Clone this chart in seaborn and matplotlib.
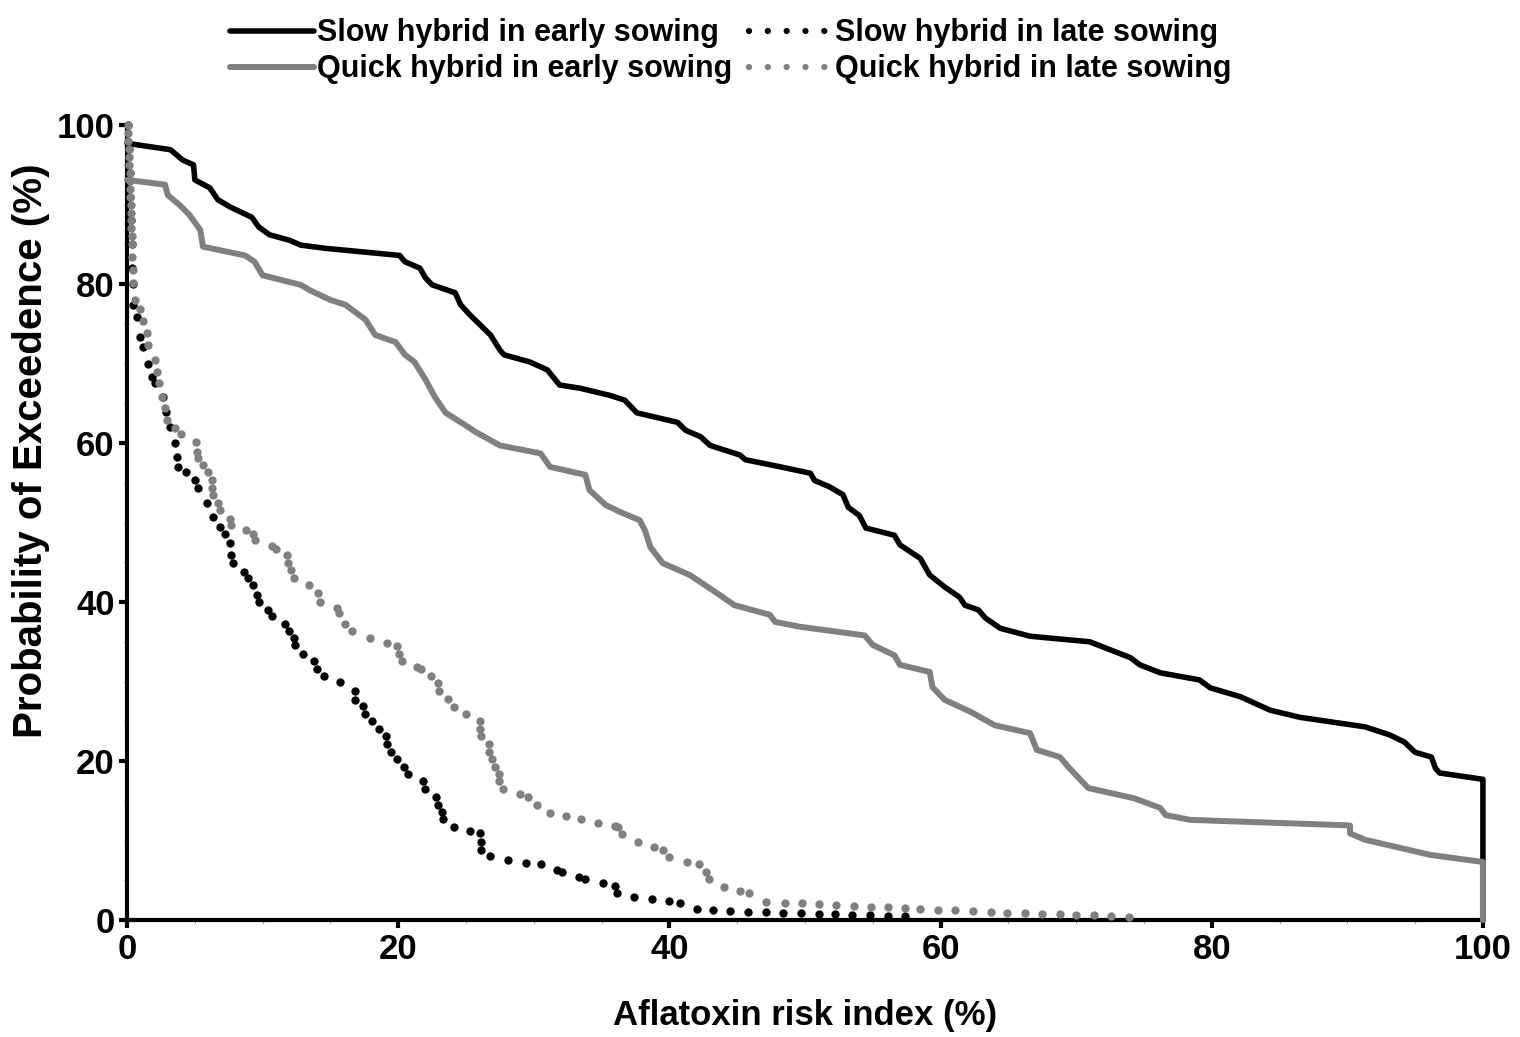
import numpy as np
import pandas as pd
import matplotlib
matplotlib.use("Agg")
import matplotlib.pyplot as plt
from matplotlib.lines import Line2D
from matplotlib.ticker import MultipleLocator
import seaborn as sns

# exceedance curves (x = aflatoxin risk index %, y = probability %)
slow_early_x = [0, 3.2, 4.1, 4.9, 5.0, 6.1, 6.7, 7.6, 9.2, 9.7, 10.5, 12.0, 12.8, 14.6, 20.1,
                20.5, 21.6, 22.0, 22.5, 24.2, 24.6, 25.3, 26.8, 27.5, 27.8, 29.7, 31.0, 31.9, 33.4,
                35.6, 36.7, 37.6, 40.6, 41.2, 42.3, 43.0, 45.2, 45.6, 48.2, 50.4, 50.7, 51.8, 52.8,
                53.2, 54.0, 54.5, 56.6, 57.0, 58.5, 59.2, 60.3, 61.4, 61.8, 62.8, 63.3, 64.4, 66.6,
                71.0, 74.0, 74.7, 76.2, 79.1, 79.9, 82.1, 84.3, 86.5, 91.3, 93.1, 94.2, 95.0, 96.2,
                96.5, 96.8, 100, 100]
slow_early_y = [97.7, 96.9, 95.6, 95.0, 93.1, 92.1, 90.6, 89.7, 88.4, 87.2, 86.2, 85.5, 84.9, 84.5,
                83.6, 82.8, 82.0, 80.8, 79.9, 78.9, 77.4, 76.1, 73.6, 71.7, 71.1, 70.2, 69.2, 67.3,
                66.9, 66.0, 65.4, 63.8, 62.6, 61.6, 60.8, 59.7, 58.5, 57.9, 57.0, 56.2, 55.3, 54.5,
                53.5, 51.9, 50.9, 49.3, 48.4, 47.2, 45.5, 43.4, 41.9, 40.6, 39.6, 39.0, 38.0, 36.7,
                35.7, 35.0, 33.0, 32.1, 31.1, 30.2, 29.2, 28.1, 26.4, 25.5, 24.3, 23.3, 22.4, 21.1,
                20.5, 19.1, 18.5, 17.7, 0]

quick_early_x = [0, 2.8, 3.0, 3.9, 4.6, 5.4, 5.6, 8.7, 9.4, 10.0, 12.8, 13.5, 15.0, 16.1, 17.6,
                 18.3, 19.8, 20.5, 21.2, 22.0, 22.7, 23.5, 24.9, 25.7, 27.5, 30.5, 31.2, 33.8, 34.1,
                 35.3, 36.4, 37.8, 38.2, 38.6, 39.5, 41.5, 42.3, 43.7, 44.8, 47.4, 47.8, 49.6, 54.4,
                 55.0, 56.6, 57.0, 59.2, 59.4, 60.3, 62.2, 64.0, 66.6, 67.1, 68.8, 69.5, 70.9, 74.3,
                 76.2, 76.6, 78.4, 90.2, 90.2, 91.3, 96.1, 100, 100]
quick_early_y = [93.1, 92.5, 91.2, 89.9, 88.7, 86.8, 84.7, 83.6, 82.8, 81.1, 79.9, 79.2, 78.0, 77.4,
                 75.5, 73.6, 72.7, 71.1, 70.2, 68.0, 65.8, 63.8, 62.3, 61.4, 59.7, 58.7, 57.0, 56.0,
                 54.1, 52.2, 51.3, 50.3, 49.0, 46.9, 44.9, 43.4, 42.5, 40.9, 39.6, 38.4, 37.5, 36.9,
                 35.8, 34.6, 33.3, 32.1, 31.2, 29.3, 27.7, 26.2, 24.5, 23.5, 21.4, 20.5, 19.1, 16.6,
                 15.3, 14.1, 13.2, 12.6, 11.9, 10.9, 10.1, 8.2, 7.3, 0]

slow_late_x = [0.1, 0.15, 0.2, 0.25, 0.3, 0.35, 0.4, 0.43, 0.47, 0.7, 0.96, 1.2, 1.57, 1.82, 2.06,
               2.68, 2.9, 3.17, 3.54, 3.66, 3.74, 4.35, 5.0, 5.26, 5.88, 6.36, 6.86, 7.2, 7.6, 7.7,
               7.8, 8.6, 8.95, 9.3, 9.56, 9.7, 10.4, 10.7, 11.65, 11.95, 12.3, 12.4, 13.0, 13.8,
               14.0, 14.5, 15.7, 16.8, 16.8, 17.4, 17.55, 18.1, 18.6, 19.1, 19.2, 19.5, 19.9, 20.4,
               20.7, 21.85, 22.0, 22.8, 22.9, 23.2, 23.3, 24.1, 25.3, 26.0, 26.1, 26.1, 26.8, 28.1,
               29.4, 30.5, 31.7, 32.1, 33.3, 33.8, 35.1, 36.0, 36.1, 37.4, 38.7, 40.0, 40.8, 42.0,
               43.2, 44.5, 45.8, 47.1, 48.4, 49.7, 51.0, 52.2, 53.5, 54.8, 56.1, 57.4]
slow_late_y = [100, 97, 94, 91, 88, 85, 82, 80, 77.4, 75.9, 73.4, 72.1, 70.0, 68.3, 67.5,
               65.8, 63.9, 62.0, 60.0, 58.3, 57.0, 56.3, 55.3, 54.3, 52.4, 50.7, 49.5, 48.6, 47.4, 45.9,
               44.9, 43.8, 43.0, 42.1, 40.9, 40.0, 39.0, 38.2, 37.3, 36.4, 35.5, 34.6, 33.5, 32.6,
               31.6, 30.7, 29.9, 28.8, 27.7, 26.9, 25.9, 25.0, 24.0, 23.1, 22.2, 21.1, 20.2, 19.3,
               18.4, 17.5, 16.5, 15.5, 14.5, 13.6, 12.7, 11.7, 11.2, 10.9, 9.85, 8.8, 8.0, 7.5,
               7.2, 7.0, 6.3, 6.1, 5.45, 5.2, 4.6, 4.3, 3.35, 2.9, 2.7, 2.4, 2.2, 1.35,
               1.2, 1.1, 1.0, 1.0, 0.9, 0.83, 0.75, 0.71, 0.63, 0.59, 0.5, 0.46]

quick_late_x = [0.05, 0.08, 0.1, 0.12, 0.14, 0.16, 0.18, 0.2, 0.22, 0.24, 0.26, 0.28, 0.3, 0.32,
                0.34, 0.35, 0.38, 0.42, 0.47, 0.6, 0.96, 1.2, 1.45, 1.57, 2.06, 2.2, 2.38,
                2.56, 2.8, 2.93, 3.54, 3.98, 5.07, 5.14, 5.26, 5.6, 6.0,
                6.25, 6.3, 6.37, 6.7, 6.86, 7.6, 7.7, 8.8, 9.3, 9.44,
                10.7, 11.0, 11.8, 11.9, 12.1, 12.3, 13.4, 14.1, 14.2, 15.5,
                15.6, 16.1, 16.6, 17.9, 19.15, 19.9, 20.06, 20.26, 21.4, 21.7,
                22.4, 22.9, 23.0, 23.7, 24.1, 25.0, 26.0, 26.0, 26.1, 26.7,
                26.7, 26.9, 27.1, 27.4, 27.4, 27.75, 29.0, 29.55, 30.2, 31.2,
                32.4, 33.5, 34.7, 36.0, 36.2, 36.5, 37.7, 38.9, 39.55, 40.0,
                41.3, 42.2, 42.7, 42.9, 44.0, 45.2, 45.9, 47.1, 48.5, 49.8,
                51.0, 52.3, 53.6, 54.9, 56.1, 57.4, 58.5, 59.8, 61.1, 62.4,
                63.7, 64.9, 66.2, 67.5, 68.8, 70.0, 71.3, 72.6, 73.9]
quick_late_y = [100, 99, 98, 97, 96, 95, 94, 93, 92, 91, 90, 89, 88, 87,
                86, 85, 83.4, 81.8, 80.1, 78.0, 76.9, 75.3, 73.8, 72.3, 70.4, 69.0, 67.5,
                65.8, 64.4, 62.9, 61.9, 61.1, 60.1, 58.9, 58.1, 57.2, 56.3,
                55.3, 54.4, 53.5, 52.4, 51.6, 50.5, 49.7, 49.0, 48.6, 47.8,
                47.0, 46.7, 45.9, 44.9, 44.0, 43.0, 42.1, 41.2, 40.0, 39.2,
                38.6, 37.3, 36.4, 35.5, 34.9, 34.5, 33.5, 32.6, 31.8, 31.6,
                30.7, 29.8, 28.8, 27.8, 26.8, 25.9, 25.0, 24.0, 23.1, 22.2,
                21.1, 20.2, 19.3, 18.4, 17.5, 16.5, 15.8, 15.5, 14.5, 13.5,
                13.1, 12.7, 12.2, 11.8, 11.7, 10.8, 9.85, 9.2, 8.8, 7.9,
                7.3, 7.0, 6.1, 5.2, 4.2, 3.7, 3.35, 2.3, 2.2, 2.1,
                2.0, 1.9, 1.8, 1.7, 1.6, 1.5, 1.4, 1.26, 1.2, 1.15,
                1.05, 0.92, 0.84, 0.75, 0.71, 0.63, 0.59, 0.5, 0.42]

labels = ["Slow hybrid in early sowing", "Quick hybrid in early sowing",
          "Slow hybrid in late sowing", "Quick hybrid in late sowing"]

BLACK = "#000000"
GREY = "#808080"

sns.set_style("white")
plt.rcParams["font.family"] = ["Liberation Sans", "DejaVu Sans"]
plt.rcParams["font.weight"] = "bold"
plt.rcParams["text.color"] = BLACK
plt.rcParams["axes.labelcolor"] = BLACK
plt.rcParams["xtick.color"] = BLACK
plt.rcParams["ytick.color"] = BLACK

fig = plt.figure(figsize=(15.2, 10.37), dpi=100)
ax = fig.add_axes([0.0836, 0.1128, 0.892, 0.7666])

# solid curves (early sowing)
se = pd.DataFrame({"x": slow_early_x, "y": slow_early_y})
qe = pd.DataFrame({"x": quick_early_x, "y": quick_early_y})
sns.lineplot(data=se, x="x", y="y", sort=False, estimator=None, color=BLACK,
             linewidth=4, ax=ax, clip_on=False, zorder=3)
sns.lineplot(data=qe, x="x", y="y", sort=False, estimator=None, color=GREY,
             linewidth=4.3, ax=ax, clip_on=False, zorder=3)

# dotted curves (late sowing)
sl = pd.DataFrame({"x": slow_late_x, "y": slow_late_y})
ql = pd.DataFrame({"x": quick_late_x, "y": quick_late_y})
sns.scatterplot(data=sl, x="x", y="y", color=BLACK, s=36, linewidth=0, ax=ax,
                clip_on=False, zorder=4)
sns.scatterplot(data=ql, x="x", y="y", color=GREY, s=36, linewidth=0, ax=ax,
                clip_on=False, zorder=5)

ax.set_xlim(0, 100)
ax.set_ylim(0, 100)
ax.xaxis.set_major_locator(MultipleLocator(20))
ax.yaxis.set_major_locator(MultipleLocator(20))
ax.xaxis.set_minor_locator(MultipleLocator(5))
ax.yaxis.set_minor_locator(MultipleLocator(5))

for side in ["top", "right"]:
    ax.spines[side].set_visible(False)
for side in ["left", "bottom"]:
    ax.spines[side].set_linewidth(3)
    ax.spines[side].set_color(BLACK)
    ax.spines[side].set_zorder(2)

ax.tick_params(axis="both", which="major", direction="out", length=6, width=3,
               colors=BLACK, labelsize=25, pad=3, bottom=True, left=True)
ax.tick_params(axis="both", which="minor", direction="out", length=2.5, width=0.8,
               colors="#707070", bottom=True, left=True)
for lab in ax.get_xticklabels() + ax.get_yticklabels():
    lab.set_fontweight("bold")

ax.set_xlabel("Aflatoxin risk index (%)", fontsize=25, fontweight="bold", labelpad=24)
ax.set_ylabel("Probability of Exceedence (%)", fontsize=29, fontweight="bold")
ax.yaxis.set_label_coords(-0.057, 0.591)
ax.grid(False)

handles = [
    Line2D([], [], color=BLACK, linewidth=4),
    Line2D([], [], color=GREY, linewidth=4.3),
    Line2D([], [], color=BLACK, linewidth=4.5, linestyle=(0, (0.01, 3.0)), dash_capstyle="round"),
    Line2D([], [], color=GREY, linewidth=4.5, linestyle=(0, (0.01, 3.0)), dash_capstyle="round"),
]
fig.legend(handles, labels, loc="upper center", bbox_to_anchor=(0.481, 0.997), ncol=2,
           frameon=False, prop={"family": "Liberation Sans", "weight": "bold", "size": 22},
           handlelength=2.75, handletextpad=0.08, columnspacing=0.55, labelspacing=0.2,
           borderaxespad=0.1)

fig.savefig("out.png", dpi=100)
